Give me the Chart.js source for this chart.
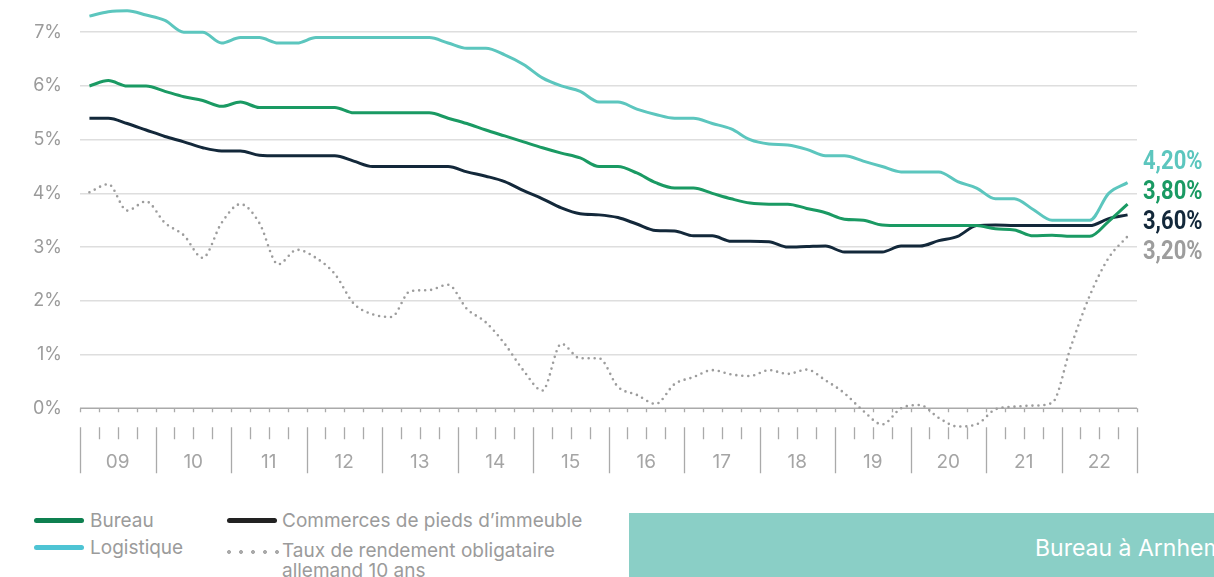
<!DOCTYPE html>
<html>
<head>
<meta charset="utf-8">
<script src="https://cdn.jsdelivr.net/npm/chart.js@4.4.0/dist/chart.umd.min.js"></script>
<style>
  html, body { margin: 0; padding: 0; background: #fff; }
  body { width: 1214px; height: 577px; position: relative; overflow: hidden; font-family: Inter, 'Noto Sans', sans-serif; }
  #wrap { position: absolute; left: 0; top: 0; width: 1214px; height: 480px; }
  .key { position: absolute; height: 5px; width: 50px; border-radius: 3px; }
  .dots { position: absolute; width: 60px; height: 4px;
    background: radial-gradient(circle, #aaa 1.8px, transparent 2.2px) 0 0 / 12px 4px repeat-x; }
  .lbl { position: absolute; color: #9b9b9b; font-size: 19px; line-height: 20px; white-space: nowrap; }
  #photo { position: absolute; left: 629px; top: 513px; width: 620px; height: 80px; background: #8acfc6; }
  #photo span { position: absolute; left: 406px; top: 22px; color: #fff; font-size: 23px; line-height: 26px; white-space: nowrap; }
</style>
</head>
<body>
<div id="wrap"><canvas id="myChart"></canvas></div>

<div class="key" style="left:34px;top:518px;background:#0e8050"></div>
<div class="lbl" style="left:90px;top:511px">Bureau</div>
<div class="key" style="left:34px;top:545px;background:#4ec4d4"></div>
<div class="lbl" style="left:90px;top:538px">Logistique</div>
<div class="key" style="left:227px;top:518px;background:#222"></div>
<div class="lbl" style="left:282px;top:511px">Commerces de pieds d’immeuble</div>
<div class="dots" style="left:223px;top:550px"></div>
<div class="lbl" style="left:282px;top:541px">Taux de rendement obligataire<br>allemand 10 ans</div>

<div id="photo"><span>Bureau à Arnhem</span></div>

<script>
// quarterly values, 2009 Q1 -> 2022 Q4 (56 points)
const years = ['09', '10', '11', '12', '13', '14', '15', '16', '17', '18', '19', '20', '21', '22']
const yTicks = [0, 1, 2, 3, 4, 5, 6, 7]

const logistique = [
  7.3, 7.38, 7.4, 7.32, 7.22, 7.0, 7.0, 6.8,
  6.9, 6.9, 6.8, 6.8, 6.9, 6.9, 6.9, 6.9,
  6.9, 6.9, 6.9, 6.8, 6.7, 6.7, 6.58, 6.4,
  6.15, 6.0, 5.9, 5.7, 5.7, 5.57, 5.47, 5.4,
  5.4, 5.3, 5.2, 5.0, 4.92, 4.9, 4.82, 4.7,
  4.7, 4.6, 4.5, 4.4, 4.4, 4.4, 4.22, 4.1,
  3.9, 3.9, 3.7, 3.5, 3.5, 3.5, 4.0, 4.2,
]
const bureau = [
  6.0, 6.1, 6.0, 6.0, 5.9, 5.8, 5.73, 5.62,
  5.7, 5.6, 5.6, 5.6, 5.6, 5.6, 5.5, 5.5,
  5.5, 5.5, 5.5, 5.4, 5.3, 5.18, 5.07, 4.96,
  4.85, 4.75, 4.66, 4.5, 4.5, 4.38, 4.2, 4.1,
  4.1, 4.0, 3.9, 3.82, 3.8, 3.8, 3.72, 3.64,
  3.52, 3.5, 3.41, 3.4, 3.4, 3.4, 3.4, 3.4,
  3.34, 3.32, 3.21, 3.22, 3.2, 3.2, 3.48, 3.8,
]
const commerces = [
  5.4, 5.4, 5.3, 5.18, 5.06, 4.96, 4.85, 4.79,
  4.79, 4.71, 4.7, 4.7, 4.7, 4.7, 4.6, 4.5,
  4.5, 4.5, 4.5, 4.5, 4.4, 4.32, 4.22, 4.05,
  3.9, 3.73, 3.62, 3.6, 3.55, 3.43, 3.31, 3.3,
  3.21, 3.21, 3.11, 3.11, 3.1, 3.0, 3.01, 3.02,
  2.91, 2.91, 2.91, 3.02, 3.02, 3.12, 3.2, 3.4,
  3.41, 3.4, 3.4, 3.4, 3.4, 3.4, 3.53, 3.6,
]
const obligataire = [
  4.02, 4.17, 3.68, 3.85, 3.45, 3.22, 2.8, 3.45,
  3.8, 3.45, 2.68, 2.95, 2.8, 2.5, 1.95, 1.75,
  1.7, 2.18, 2.2, 2.3, 1.85, 1.6, 1.2, 0.7,
  0.33, 1.2, 0.93, 0.93, 0.4, 0.25, 0.08, 0.45,
  0.58, 0.71, 0.63, 0.6, 0.71, 0.64, 0.72, 0.52,
  0.28, -0.05, -0.3, 0.0, 0.06, -0.18, -0.34, -0.3,
  -0.02, 0.03, 0.05, 0.1, 1.15, 2.1, 2.8, 3.2,
]

const colors = {
  logistique: '#5cc6be',
  bureau: '#1a9a63',
  commerces: '#13283a',
  obligataire: '#9d9d9d',
}

const toPoints = (arr) => arr.map((v, i) => ({ x: i + 0.5, y: v }))
const fmt = (v) => v.toFixed(2).replace('.', ',') + '%'

const lineSet = (label, arr, color) => ({
  label: label,
  data: toPoints(arr),
  borderColor: color,
  backgroundColor: color,
  borderWidth: 3,
  pointRadius: 0,
  cubicInterpolationMode: 'monotone',
  fill: false,
})

// pick a narrow bold face for the end labels if one is installed
function endFont(ctx) {
  ctx.font = 'bold 25px "Liberation Sans Narrow", monospace'
  const a = ctx.measureText('4,20%').width
  ctx.font = 'bold 25px monospace'
  const b = ctx.measureText('4,20%').width
  return a !== b ? { font: 'bold 25px "Liberation Sans Narrow"', sx: 1 } : { font: 'bold 25px Roboto', sx: 0.88 }
}

const axisPlugin = {
  id: 'quarterAxis',
  beforeDatasetsDraw(chart) {
    const { ctx } = chart
    const x = chart.scales.x
    const y0 = chart.scales.y.getPixelForValue(0)
    ctx.save()
    ctx.strokeStyle = '#aaaaaa'
    ctx.lineWidth = 1.5
    ctx.beginPath()
    ctx.moveTo(x.getPixelForValue(0), y0)
    ctx.lineTo(x.getPixelForValue(years.length * 4), y0)
    ctx.stroke()
    ctx.lineWidth = 1.3
    for (let q = 0; q <= years.length * 4; q++) {
      const px = Math.round(x.getPixelForValue(q)) + 0.5
      ctx.beginPath()
      ctx.moveTo(px, y0)
      ctx.lineTo(px, y0 + 4)
      ctx.moveTo(px, y0 + 19)
      ctx.lineTo(px, q % 4 === 0 ? y0 + 65 : y0 + 31)
      ctx.stroke()
    }
    ctx.fillStyle = '#a5a5a5'
    ctx.font = '19px Inter'
    ctx.textAlign = 'center'
    ctx.textBaseline = 'middle'
    years.forEach((yr, i) => {
      ctx.fillText(yr, x.getPixelForValue(i * 4 + 2), y0 + 54)
    })
    ctx.restore()
  },
  afterDatasetsDraw(chart) {
    const { ctx, chartArea } = chart
    const y = chart.scales.y
    const sets = chart.data.datasets
    const ends = sets.map((ds) => ds.data[ds.data.length - 1].y)
    const order = ends.map((v, i) => i).sort((a, b) => ends[b] - ends[a])
    const mean = ends.reduce((s, v) => s + y.getPixelForValue(v), 0) / ends.length
    const f = endFont(ctx)
    ctx.save()
    ctx.font = f.font
    ctx.textBaseline = 'middle'
    order.forEach((idx, k) => {
      const py = mean - 2 + (k - (order.length - 1) / 2) * 30
      ctx.save()
      ctx.translate(chartArea.right + 6, py)
      ctx.scale(f.sx, 1)
      ctx.fillStyle = sets[idx].borderColor
      ctx.fillText(fmt(ends[idx]), 0, 0)
      ctx.restore()
    })
    ctx.restore()
  },
}

const ctx = document.getElementById('myChart').getContext('2d')

const config = {
  type: 'line',
  data: {
    datasets: [
      lineSet('Logistique', logistique, colors.logistique),
      lineSet('Bureau', bureau, colors.bureau),
      lineSet('Commerces de pieds d’immeuble', commerces, colors.commerces),
      {
        ...lineSet('Taux de rendement obligataire allemand 10 ans', obligataire, colors.obligataire),
        borderWidth: 2.6,
        borderDash: [0, 6],
        borderCapStyle: 'round',
      },
    ],
  },
  options: {
    responsive: true,
    maintainAspectRatio: false,
    animation: false,
    layout: { padding: { left: 0, right: 77, top: 0, bottom: 39.5 } },
    scales: {
      x: {
        type: 'linear',
        min: 0,
        max: years.length * 4,
        display: false,
      },
      y: {
        min: -0.6,
        max: 7.6,
        afterBuildTicks: (s) => {
          s.ticks = yTicks.map((v) => ({ value: v }))
        },
        afterFit: (s) => {
          s.width = 80
          s.paddingTop = 0
          s.paddingBottom = 0
        },
        border: { display: false },
        grid: {
          drawTicks: false,
          color: (c) => (c.tick && c.tick.value === 0 ? 'transparent' : '#dedede'),
          lineWidth: 1.5,
        },
        ticks: {
          padding: 18,
          color: '#9b9b9b',
          font: { family: 'Inter', size: 18 },
          callback: (v) => v + '%',
        },
      },
    },
    plugins: {
      legend: { display: false },
      tooltip: { enabled: false },
    },
  },
  plugins: [axisPlugin],
}

new Chart(ctx, config)
</script>
</body>
</html>
